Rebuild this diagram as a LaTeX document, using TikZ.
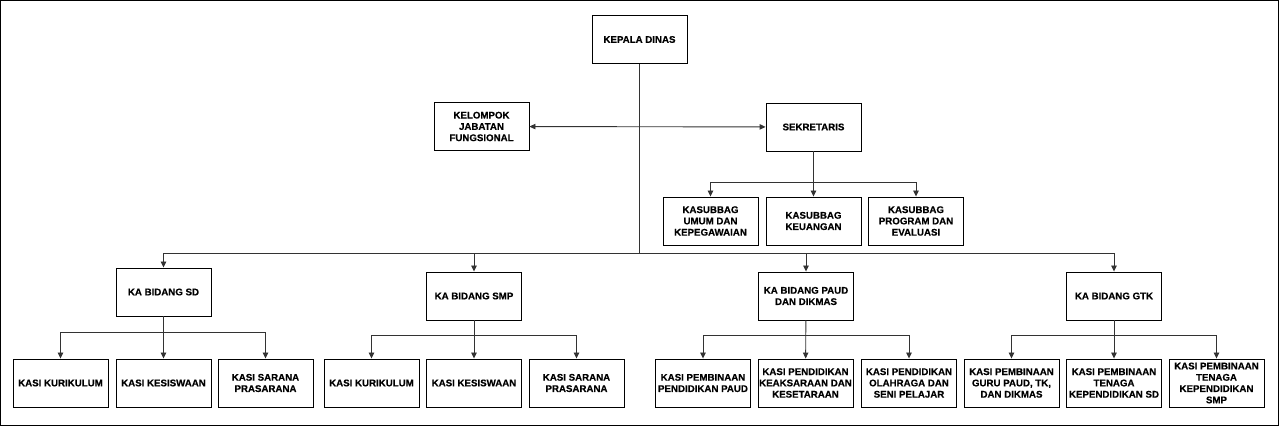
\documentclass[tikz,border=0pt]{standalone}
\usepackage{fontspec}
\setmainfont[FakeBold=0.4]{Liberation Sans}
\usetikzlibrary{arrows.meta}

\begin{document}
\begin{tikzpicture}
		[x=1pt, y=-1pt,
		boxsty/.style={draw, line width=0.9pt, minimum width=95, minimum height=48,
			align=center, inner sep=1pt, font=\fontsize{9.7}{11.3}\selectfont\bfseries},
		linesty/.style={draw, line width=0.9pt, black!80},
		arrsty/.style={linesty, -{Triangle[length=6pt,width=5.5pt]}},
		dblsty/.style={linesty, {Triangle[length=6pt,width=5.5pt]}-{Triangle[length=6pt,width=5.5pt]}}]
		\useasboundingbox (0,0) rectangle (1280,427);
		\draw[line width=1.2pt] (0.6,0.6) rectangle (1278.4,425.4);
		
		\node (kadis) at (639.5, 39.5) [boxsty] {KEPALA DINAS};
		\node (kjf)   at (481.5,126.5) [boxsty] {KELOMPOK\\JABATAN\\FUNGSIONAL};
		\node (sekr)  at (813.5,127)   [boxsty] {SEKRETARIS};
		
		\node (umum) at (710.5,221) [boxsty] {KASUBBAG\\UMUM DAN\\KEPEGAWAIAN};
		\node (keu)  at (813.5,221) [boxsty] {KASUBBAG\\KEUANGAN};
		\node (prog) at (916,221)   [boxsty] {KASUBBAG\\PROGRAM DAN\\EVALUASI};
		
		\node (sd)   at (163.5,292) [boxsty] {KA BIDANG SD};
		\node (smp)  at (474,296)   [boxsty] {KA BIDANG SMP};
		\node (paud) at (806,296)   [boxsty] {KA BIDANG PAUD\\DAN DIKMAS};
		\node (gtk)  at (1114,296)  [boxsty] {KA BIDANG GTK};
		
		\node (sd kur) at (60.5,383)  [boxsty] {KASI KURIKULUM};
		\node (sd kes) at (163.5,383) [boxsty] {KASI KESISWAAN};
		\node (sd sar) at (265.5,383) [boxsty] {KASI SARANA\\PRASARANA};
		
		\node (smp kur) at (371.5,383) [boxsty] {KASI KURIKULUM};
		\node (smp kes) at (474,383)   [boxsty] {KASI KESISWAAN};
		\node (smp sar) at (576.5,383) [boxsty] {KASI SARANA\\PRASARANA};
		
		\node (paud 1) at (703,383)   [boxsty] {KASI PEMBINAAN\\PENDIDIKAN PAUD};
		\node (paud 2) at (805.5,383) [boxsty] {KASI PENDIDIKAN\\KEAKSARAAN DAN\\KESETARAAN};
		\node (paud 3) at (909,383)   [boxsty] {KASI PENDIDIKAN\\OLAHRAGA DAN\\SENI PELAJAR};
		
		\node (gtk 1) at (1011.5,383) [boxsty] {KASI PEMBINAAN\\GURU PAUD, TK,\\DAN DIKMAS};
		\node (gtk 2) at (1114,383)   [boxsty] {KASI PEMBINAAN\\TENAGA\\KEPENDIDIKAN SD};
		\node (gtk 3) at (1216.5,383) [boxsty] {KASI PEMBINAAN\\TENAGA\\KEPENDIDIKAN\\SMP};
		
		% junctions
		\coordinate (bus)      at (639.5,253);
		\coordinate (sekr bus) at (813.5,182);
		\coordinate (sd bus)   at (163.5,332);
		\coordinate (smp bus)  at (474,335);
		\coordinate (paud bus) at (806,335);
		\coordinate (gtk bus)  at (1114,335);
		
		\draw[linesty] (kadis) -- (bus);
		\draw[arrsty] (bus) -| (sd);
		\draw[arrsty] (bus) -| (smp);
		\draw[arrsty] (bus) -| (paud);
		\draw[arrsty] (bus) -| (gtk);
		
		\draw[dblsty] (kjf) -- (sekr);
		
		\draw[arrsty] (sekr) -- (keu);
		\draw[arrsty] (sekr bus) -| (umum);
		\draw[arrsty] (sekr bus) -| (prog);
		
		\draw[arrsty] (sd) -- (sd kes);
		\draw[arrsty] (sd bus) -| (sd kur);
		\draw[arrsty] (sd bus) -| (sd sar);
		
		\draw[arrsty] (smp) -- (smp kes);
		\draw[arrsty] (smp bus) -| (smp kur);
		\draw[arrsty] (smp bus) -| (smp sar);
		
		\draw[arrsty] (paud) -- (paud 2);
		\draw[arrsty] (paud bus) -| (paud 1);
		\draw[arrsty] (paud bus) -| (paud 3);
		
		\draw[arrsty] (gtk) -- (gtk 2);
		\draw[arrsty] (gtk bus) -| (gtk 1);
		\draw[arrsty] (gtk bus) -| (gtk 3);
	\end{tikzpicture}
\end{document}
